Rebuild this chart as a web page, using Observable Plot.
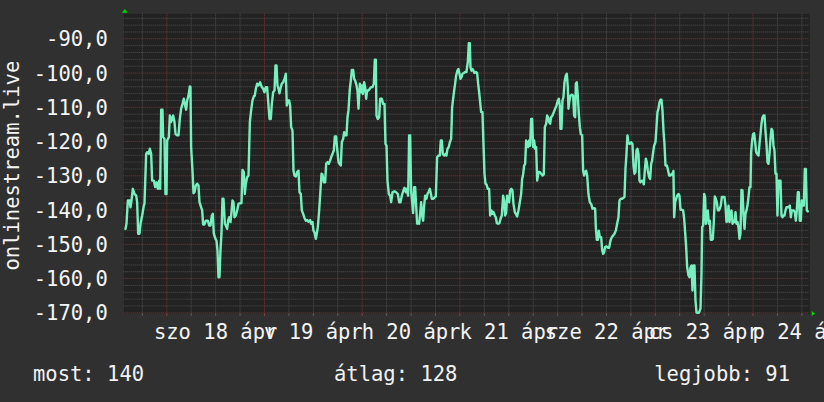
<!DOCTYPE html>
<html><head><meta charset="utf-8">
<script src="https://cdn.jsdelivr.net/npm/d3@7"></script>
<script src="https://cdn.jsdelivr.net/npm/@observablehq/plot@0.6"></script>
<style>
html,body{margin:0;padding:0;background:#303030;overflow:hidden}
#chart{position:relative;width:824px;height:402px;overflow:hidden;background:#303030}
#chart svg{display:block}
#legend{position:absolute;left:0;top:352px;width:824px;height:50px;font-family:"DejaVu Sans Mono",monospace;font-size:20.5px;color:#f2f2f2}
#legend span{position:absolute;top:11.7px;line-height:1;white-space:pre}
</style></head><body><div id="chart"></div>
<script>
// Hours since 2015-04-18 00:00 and values (onlinestream.live)
const sampleHours = [
-10.15,-9.90,-9.57,-9.16,-8.92,-8.67,-8.34,-7.94,-7.52,-7.28,-7.03,-6.71,-6.46,-6.05,-5.64,-5.48,-5.07,-4.82,-4.41,-4.17,-3.84,-3.60,-3.19,-2.86,-2.53,-2.20,-1.87,-1.63,-1.38,-1.06,-0.89,-0.57,-0.32,-0.07,0.09,0.50,0.75,1.07,1.40,1.56,1.89,2.14,2.55,2.87,3.20,3.53,3.86,4.18,4.51,4.76,5.00,5.33,5.66,5.82,5.98,6.31,6.56,6.80,7.13,7.46,7.79,8.03,8.44,8.69,8.93,9.26,9.59,10.08,10.41,10.73,11.06,11.31,11.55,11.96,12.21,12.45,12.70,12.94,13.19,13.43,13.68,13.93,14.26,14.50,14.83,15.07,15.32,15.65,15.89,16.14,16.38,16.63,16.96,17.29,17.61,17.94,18.35,18.59,18.92,19.17,19.41,19.74,20.07,20.40,20.72,21.05,21.38,21.62,21.87,22.20,
22.53,22.93,23.34,23.67,24.00,24.33,24.65,24.98,25.23,25.55,25.80,26.13,26.46,26.70,26.95,27.19,27.44,27.68,28.01,28.26,28.58,28.91,29.24,29.48,29.73,30.06,30.30,30.55,30.88,31.12,31.37,31.70,32.02,32.35,32.60,32.92,33.17,33.50,33.82,34.15,34.48,34.81,35.22,35.46,35.79,36.03,36.28,36.61,36.85,37.10,37.43,37.75,38.00,38.25,38.57,38.90,39.15,39.47,39.80,40.13,40.37,40.70,41.03,41.28,41.60,41.85,42.18,42.42,42.75,42.99,43.32,43.57,43.81,44.14,44.39,44.63,44.96,45.21,45.45,45.78,46.02,46.27,46.60,46.84,47.09,47.42,47.66,47.91,48.15,48.48,48.73,48.97,49.22,49.55,49.87,50.20,50.53,50.86,51.10,51.35,51.51,51.84,52.17,52.41,52.82,53.15,53.48,53.72,53.97,54.21,54.54,54.87,55.11,55.44,55.93,56.34,
56.75,57.08,57.40,57.73,58.06,58.39,58.71,58.96,59.29,59.53,59.78,60.02,60.27,60.51,60.76,61.01,61.25,61.50,61.74,61.99,62.23,62.48,62.72,62.97,63.22,63.46,63.79,64.03,64.28,64.61,64.85,65.10,65.43,65.75,66.08,66.41,66.74,67.06,67.31,67.56,67.80,68.13,68.46,68.70,68.95,69.27,69.52,69.85,70.09,70.34,70.59,70.83,71.08,71.40,71.65,71.90,72.14,72.39,72.63,72.96,73.29,73.61,73.94,74.19,74.43,74.60,74.84,75.09,75.33,75.58,75.91,76.24,76.48,76.73,76.97,77.22,77.54,77.79,78.04,78.28,78.53,78.85,79.18,79.43,79.76,80.00,80.25,80.57,80.82,81.07,81.39,81.72,81.97,82.29,82.62,82.87,83.11,83.36,83.60,83.85,84.10,84.34,84.67,84.91,85.16,85.49,85.73,86.06,86.39,86.72,87.04,87.29,87.53,87.78,88.03,88.27,88.52,88.76,89.01,89.25,89.50,89.75,89.99,90.24,90.48,90.73,
90.98,91.30,91.63,91.96,92.29,92.61,92.86,93.19,93.43,93.68,93.92,94.17,94.41,94.74,95.07,95.40,95.72,96.05,96.30,96.54,96.71,96.95,97.20,97.44,97.69,98.02,98.26,98.51,98.67,98.92,99.16,99.49,99.82,100.06,100.31,100.47,100.72,100.96,101.21,101.46,101.70,102.03,102.27,102.52,102.77,103.01,103.26,103.58,103.91,104.24,104.57,104.89,105.22,105.39,105.63,105.88,106.12,106.37,106.70,106.94,107.19,107.43,107.68,108.01,108.33,108.66,108.99,109.32,109.64,109.97,110.30,110.63,110.95,111.20,111.53,111.85,112.18,112.43,112.67,112.92,113.16,113.41,113.74,114.07,114.39,114.64,114.88,115.13,115.37,115.62,115.87,116.11,116.36,116.68,116.93,117.18,117.42,117.67,117.91,118.16,118.49,118.73,118.98,119.22,119.47,119.71,120.04,120.29,120.53,120.78,121.03,121.27,121.52,121.76,122.01,122.25,122.50,122.83,123.07,123.40,123.73,124.05,124.30,124.45,
124.63,124.88,125.12,125.37,125.69,125.94,126.19,126.51,126.84,127.09,127.33,127.58,127.82,128.15,128.40,128.64,128.89,129.13,129.38,129.62,129.87,130.12,130.44,130.77,131.10,131.34,131.51,131.75,132.00,132.24,132.41,132.65,132.90,133.14,133.39,133.64,133.88,134.13,134.37,134.62,134.86,135.11,135.36,135.60,135.85,136.09,136.34,136.67,136.99,137.24,137.48,137.73,137.98,138.22,138.47,138.71,138.96,139.20,139.45,139.70,139.94,140.19,140.43,140.68,140.92,141.17,141.41,141.66,141.91,142.15,142.40,142.64,142.89,143.13,143.38,143.54,143.79,144.03,144.28,144.53,144.77,145.02,145.35,145.59,145.84,146.08,146.33,146.57,146.82,147.06,147.31,147.56,147.80,148.05,148.29,148.54,148.78,149.03,149.27,149.52,149.77,150.01,150.26,150.50,150.75,150.99,151.24,151.49,151.73,151.98,152.22,152.47,152.71,153.04,153.29,153.53,153.78,154.02,154.27,154.52,154.76,155.01,155.25,155.50,155.74,155.99,156.24,156.48,156.73,156.97,157.22,157.46
];
const sampleValues = [
-145.5,-144.0,-137.2,-137.2,-139.2,-137.2,-133.8,-135.3,-135.8,-137.7,-146.9,-146.9,-144.0,-141.6,-138.7,-138.2,-123.6,-123.1,-123.6,-122.1,-123.6,-131.4,-131.4,-133.3,-131.9,-133.8,-131.4,-133.8,-110.7,-110.7,-118.7,-119.2,-135.3,-135.3,-119.7,-118.7,-112.4,-114.3,-112.9,-112.4,-114.3,-117.8,-118.2,-118.2,-113.4,-110.4,-109.0,-107.5,-109.5,-110.7,-108.0,-106.6,-103.9,-104.1,-121.6,-128.5,-135.1,-134.8,-132.8,-132.3,-132.8,-137.7,-139.2,-140.1,-144.2,-144.2,-143.1,-143.1,-144.5,-144.5,-141.6,-141.1,-146.9,-148.4,-148.9,-151.8,-159.6,-159.6,-151.8,-146.9,-136.7,-136.7,-144.0,-144.5,-145.5,-143.1,-142.1,-143.5,-140.6,-137.2,-137.7,-142.1,-141.6,-140.1,-138.2,-138.0,-138.0,-128.3,-128.9,-135.3,-132.3,-130.4,-129.9,-114.3,-110.9,-108.0,-106.8,-106.6,-104.6,-103.1,
-103.6,-102.7,-104.1,-104.6,-105.6,-104.1,-104.1,-109.5,-113.4,-113.4,-109.0,-105.6,-105.1,-97.8,-97.8,-103.6,-104.6,-105.9,-104.1,-103.1,-102.7,-101.7,-100.2,-109.5,-108.0,-108.0,-109.5,-115.8,-116.8,-128.5,-129.9,-130.2,-128.9,-128.5,-134.8,-135.3,-140.1,-141.1,-142.3,-143.1,-142.9,-143.4,-142.9,-144.0,-143.5,-146.0,-146.5,-148.4,-146.9,-145.0,-140.1,-134.3,-129.4,-129.6,-131.9,-131.9,-126.5,-126.0,-126.5,-125.5,-124.6,-123.6,-122.6,-118.5,-118.5,-122.1,-126.0,-126.5,-127.0,-120.2,-119.2,-117.3,-118.2,-118.2,-112.9,-110.9,-104.6,-102.2,-99.1,-99.1,-101.7,-102.2,-103.6,-105.1,-110.4,-103.1,-105.6,-103.6,-106.1,-102.7,-104.1,-107.5,-105.1,-105.1,-104.6,-104.1,-104.1,-103.1,-96.1,-96.1,-112.4,-113.4,-112.9,-107.5,-107.5,-109.0,-109.0,-120.7,-121.2,-131.4,-135.3,-135.8,-137.7,-134.8,-134.5,-134.8,
-135.3,-137.7,-137.7,-135.8,-134.5,-133.5,-134.8,-133.8,-135.8,-118.2,-118.2,-134.3,-137.7,-140.9,-133.3,-133.3,-138.7,-144.0,-143.5,-144.0,-141.1,-137.7,-141.6,-143.1,-138.7,-135.8,-136.7,-135.3,-134.8,-133.8,-135.1,-136.7,-136.7,-136.4,-136.0,-124.6,-124.1,-124.1,-119.7,-119.7,-123.6,-124.1,-123.6,-124.1,-122.1,-121.6,-120.2,-119.2,-110.0,-107.5,-105.1,-103.1,-100.7,-99.3,-98.8,-100.2,-101.7,-101.2,-100.2,-100.0,-99.7,-99.7,-96.8,-91.3,-91.3,-98.3,-99.3,-98.8,-99.3,-100.0,-99.7,-100.0,-103.1,-105.6,-108.5,-111.4,-111.4,-120.7,-129.4,-132.3,-132.5,-133.8,-133.8,-141.6,-140.1,-141.1,-140.6,-141.6,-142.1,-143.8,-144.0,-143.8,-142.6,-141.6,-135.8,-137.2,-141.6,-140.9,-135.8,-137.2,-137.7,-134.3,-133.8,-134.3,-138.2,-140.6,-141.1,-141.9,-140.1,-137.7,-135.3,-130.9,-129.6,-127.0,-126.5,-119.7,-120.2,-121.6,-119.7,-121.2,-113.4,-113.4,-121.6,-119.7,-122.1,-121.6,
-131.4,-128.9,-128.9,-129.4,-129.9,-129.6,-115.8,-114.8,-112.4,-112.9,-114.3,-114.8,-112.9,-112.4,-111.4,-110.4,-109.5,-108.0,-107.5,-109.5,-116.3,-116.3,-108.0,-107.0,-102.7,-100.7,-100.2,-104.1,-110.4,-108.0,-106.6,-106.3,-106.6,-112.4,-112.9,-103.1,-102.7,-106.6,-111.9,-115.8,-117.8,-118.2,-128.5,-129.9,-128.9,-128.5,-129.9,-135.3,-137.7,-138.2,-139.6,-139.4,-139.6,-145.0,-148.7,-148.7,-146.0,-147.9,-147.9,-151.6,-152.8,-152.3,-150.8,-150.6,-151.0,-151.0,-148.9,-147.9,-147.4,-146.9,-146.0,-144.0,-142.1,-137.2,-136.7,-136.7,-136.4,-136.2,-128.0,-123.6,-118.2,-120.5,-120.7,-120.2,-120.7,-127.0,-129.4,-128.9,-122.6,-122.1,-123.6,-131.4,-131.9,-131.4,-131.4,-132.5,-128.5,-125.0,-126.0,-128.5,-130.4,-130.9,-126.5,-125.5,-123.1,-121.2,-120.2,-115.8,-111.4,-110.4,-108.5,-107.8,-107.8,-110.9,-116.8,-120.7,-127.0,-127.0,-128.0,-129.9,-129.9,-129.4,-129.9,-128.6,
-142.1,-137.7,-136.7,-135.8,-135.3,-135.8,-139.9,-139.9,-140.1,-142.6,-146.5,-150.8,-156.7,-159.1,-159.6,-156.7,-156.2,-163.5,-156.2,-156.2,-166.4,-169.9,-170.0,-169.9,-168.8,-158.6,-145.0,-144.5,-135.3,-136.2,-144.0,-141.1,-140.1,-144.0,-143.1,-148.7,-148.7,-148.4,-143.5,-136.0,-136.7,-137.7,-140.1,-140.1,-139.6,-138.7,-136.2,-136.2,-136.2,-138.7,-143.5,-143.1,-138.7,-143.5,-141.1,-140.1,-144.0,-143.5,-143.5,-140.6,-144.0,-143.5,-145.0,-148.4,-146.9,-134.1,-134.3,-141.1,-145.5,-141.1,-140.1,-138.7,-136.2,-133.3,-133.3,-123.1,-119.7,-117.8,-117.6,-120.2,-123.1,-123.6,-124.1,-120.7,-117.8,-114.8,-112.9,-112.4,-112.4,-116.8,-120.7,-126.0,-126.5,-123.6,-119.2,-116.3,-116.8,-121.2,-122.6,-129.4,-129.4,-141.6,-131.4,-131.4,-131.4,-141.6,-142.1,-141.6,-141.6,-140.1,-139.2,-139.2,-139.2,-138.7,-142.1,-140.1,-140.1,-140.1,-140.6,-143.1,-140.1,-134.8,-134.8,-143.1,-143.1,-137.2,-138.7,-138.7,-128.0,-128.0,-140.1,-140.4
];
const timeWindow = [-10.56, 157.95];          // hours relative to 18 Apr 00:00
const valueWindow = [-170.2, -82.7];
const yTickValues = [-170, -160, -150, -140, -130, -120, -110, -100, -90];
const dayStarts = [0, 24, 48, 72, 96, 120, 144];
const dayLabels = ["szo 18 ápr", "v 19 ápr", "h 20 ápr", "k 21 ápr", "sze 22 ápr", "cs 23 ápr", "p 24 ápr"];
const seriesTitle = "onlinestream.live";
const legendItems = [
  {label: "most", value: 140},
  {label: "átlag", value: 128},
  {label: "legjobb", value: 91}
];

const data = sampleHours.map((h, i) => ({h, v: sampleValues[i]}));
const minorY = d3.range(-170, -82, 2).filter(d => d % 10 !== 0);
const minorX = d3.range(-6, 158, 6).filter(d => d % 24 !== 0);
const labelHours = dayStarts.map(d => d + 12);
const labelOf = new Map(labelHours.map((h, i) => [h, dayLabels[i]]));
const fmt = d => d.toFixed(1).replace(".", ",");
const textColor = "#f4f4f4";
const fs = 20.5;

const arrows = (index, scales, values, dims) => {
  const g = d3.create("svg:g");
  const l = dims.marginLeft, t = dims.marginTop;
  const r = dims.width - dims.marginRight, b = dims.height - dims.marginBottom;
  g.append("path").attr("d", `M${l - 1.5},${t - 0.6}L${l + 4.5},${t - 0.6}L${l + 1.5},${t - 4.3}Z`).attr("fill", "#00d000");
  g.append("path").attr("d", `M${r + 2.4},${b - 2}L${r + 2.4},${b + 3}L${r + 6},${b + 0.5}Z`).attr("fill", "#00d000");
  return g.node();
};

const chart = Plot.plot({
  width: 824,
  height: 352,
  marginLeft: 123.3,
  marginRight: 14.7,
  marginTop: 13.3,
  marginBottom: 39,
  x: {type: "linear", domain: timeWindow, axis: null, label: null},
  y: {domain: valueWindow, axis: null, label: null},
  style: {background: "transparent", color: textColor, fontFamily: "'DejaVu Sans Mono', monospace", fontSize: fs + "px"},
  marks: [
    Plot.frame({fill: "#222222", stroke: "none"}),
    Plot.ruleY(minorY, {stroke: "#505050", strokeDasharray: "1,1"}),
    Plot.ruleX(minorX, {stroke: "#505050", strokeDasharray: "1,1"}),
    Plot.ruleY(yTickValues, {stroke: "#7c3636", strokeDasharray: "1,1"}),
    Plot.ruleX(dayStarts, {stroke: "#7c3636", strokeDasharray: "1,1"}),
    Plot.axisX(minorX, {tickSize: 3, tickFormat: () => "", label: null, stroke: "#5a5a5a"}),
    Plot.axisX(dayStarts, {tickSize: 3, tickFormat: () => "", label: null, stroke: "#8a3a3a"}),
    Plot.line(data, {x: "h", y: "v", stroke: "#78efbf", strokeWidth: 2.4}),
    Plot.text(yTickValues, {y: d => d, text: fmt, frameAnchor: "left", textAnchor: "end", dx: -16, dy: 1, fill: textColor, fontSize: fs}),
    Plot.text(labelHours, {x: d => d, text: d => labelOf.get(d), frameAnchor: "bottom", lineAnchor: "top", dy: 10.7, fill: textColor, fontSize: fs}),
    Plot.text([seriesTitle], {frameAnchor: "left", textAnchor: "middle", rotate: -90, lineAnchor: "bottom", dx: -105, dy: 2, fill: textColor, fontSize: fs}),
    arrows
  ]
});

const root = document.getElementById("chart");
root.appendChild(chart);
const legend = document.createElement("div");
legend.id = "legend";
const pos = [{left: "33px"}, {left: "334px"}, {right: "34px"}];
legendItems.forEach((it, i) => {
  const s = document.createElement("span");
  s.textContent = `${it.label}: ${it.value}`;
  Object.assign(s.style, pos[i]);
  legend.appendChild(s);
});
root.appendChild(legend);
</script>
</body></html>
